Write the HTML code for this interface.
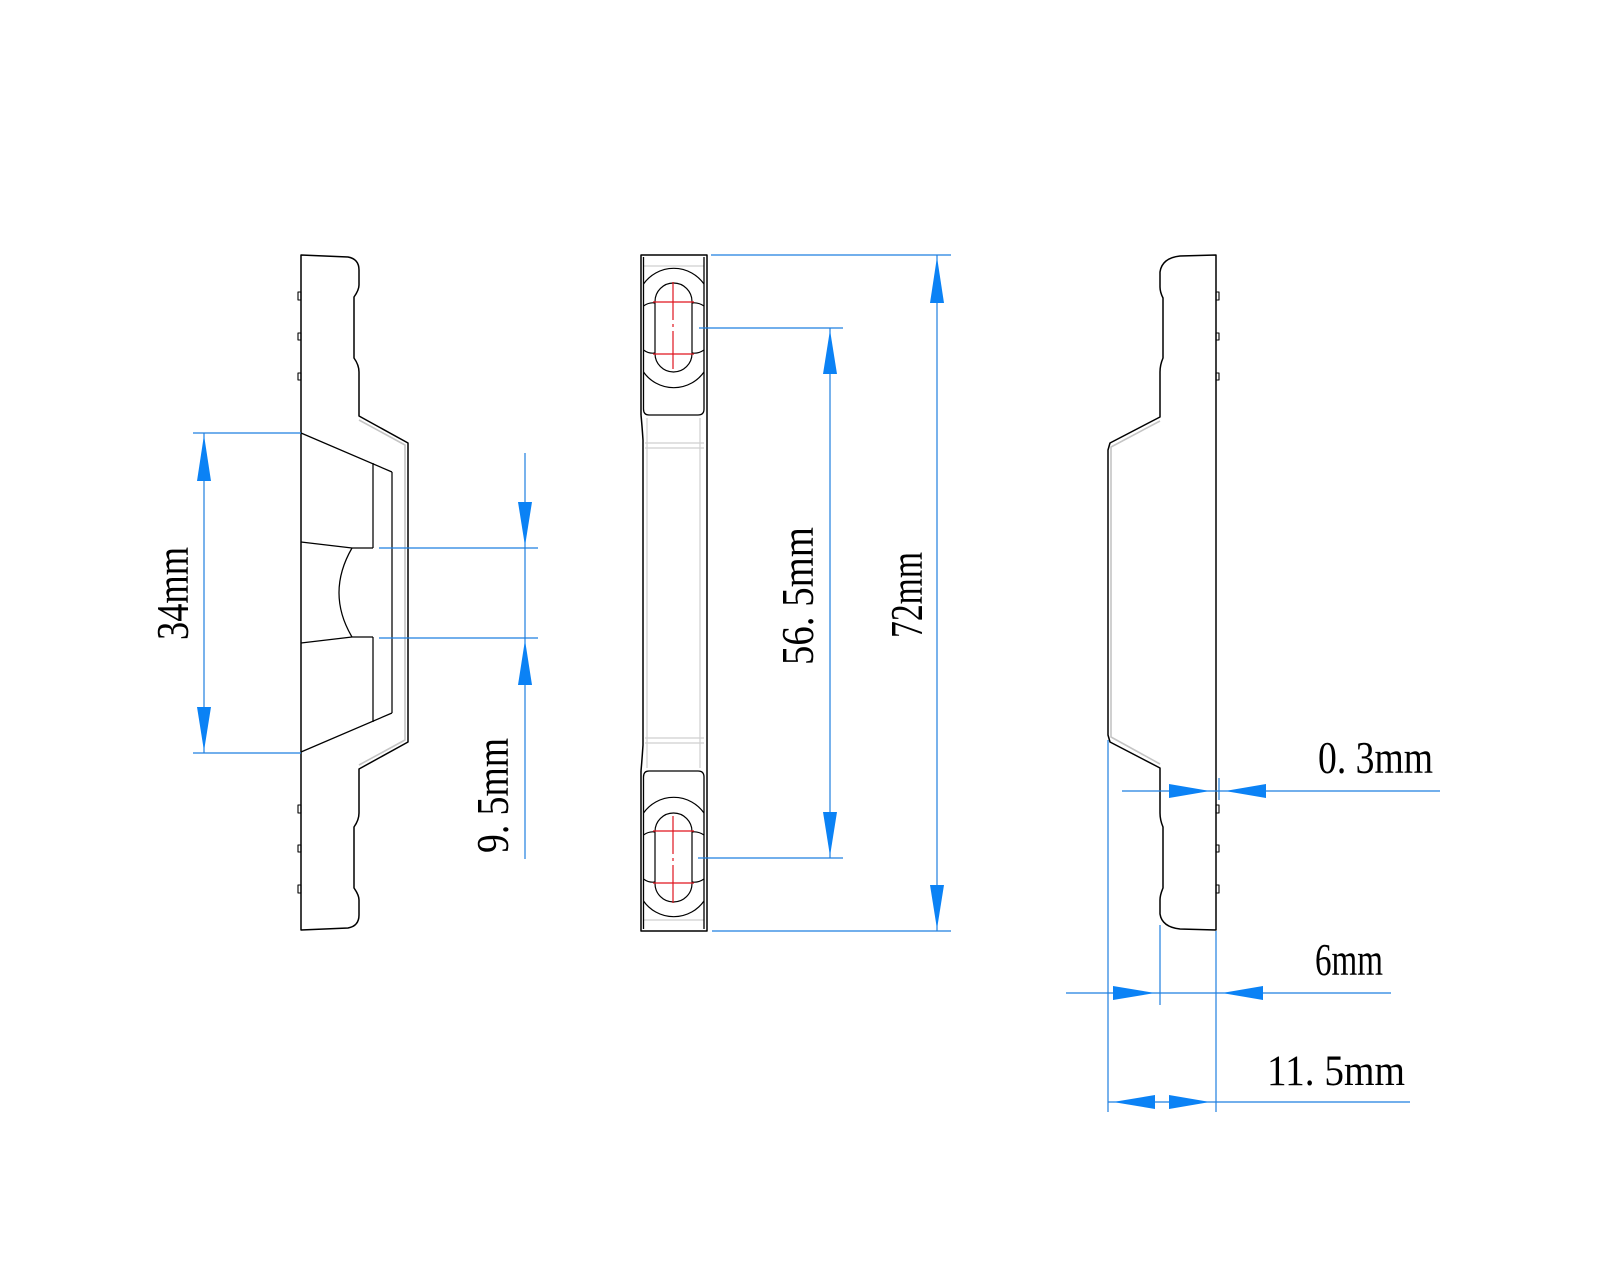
<!DOCTYPE html>
<html>
<head>
<meta charset="utf-8">
<style>
  html, body { margin: 0; padding: 0; background: #ffffff; }
  body { width: 1600px; height: 1280px; overflow: hidden; }
  svg { display: block; }
  text { font-family: "Liberation Serif", "Noto Serif CJK SC", serif; fill: #000; }
</style>
</head>
<body>
<svg width="1600" height="1280" viewBox="0 0 1600 1280" xmlns="http://www.w3.org/2000/svg">
  <rect width="1600" height="1280" fill="#ffffff"/>

  <!-- ================= LEFT VIEW ================= -->
  <g fill="none" stroke-linejoin="round">
    <polyline points="359,420 405,445 405,740 359,765" stroke="#c4c4c4" stroke-width="1.6"/>
    <path d="M301 255 L348 257 Q359 259 359 270 L359 285 Q359 290 354 297 L354 358 Q359 365 359 372 L359 416 L408 443 L408 742 L359 769 L359 813 Q359 820 354 827 L354 888 Q359 895 359 900 L359 915 Q359 926 348 928 L301 930 Z" stroke="#000" stroke-width="1.5"/>
    <g stroke="#000" stroke-width="1.1">
      <rect x="298" y="292" width="3" height="8"/>
      <rect x="298" y="333" width="3" height="7"/>
      <rect x="298" y="373" width="3" height="7"/>
      <rect x="298" y="805" width="3" height="8"/>
      <rect x="298" y="845" width="3" height="7"/>
      <rect x="298" y="885" width="3" height="8"/>
    </g>
    <g stroke="#000" stroke-width="1.25">
      <line x1="301" y1="433" x2="392" y2="472"/>
      <line x1="392" y1="472" x2="392" y2="713"/>
      <line x1="392" y1="713" x2="301" y2="752"/>
      <line x1="373" y1="463" x2="373" y2="548"/>
      <line x1="373" y1="637" x2="373" y2="722"/>
      <polyline points="301,542 352,548 373,548"/>
      <polyline points="301,643 352,637 373,637"/>
      <path d="M352 548 Q326 593 352 637"/>
    </g>
  </g>

  <!-- ================= MIDDLE VIEW ================= -->
  <g fill="none" stroke-linejoin="round">
    <g stroke="#cfcfcf" stroke-width="1.2">
      <line x1="644" y1="266" x2="704" y2="266"/>
      <line x1="644" y1="920" x2="704" y2="920"/>
      <line x1="647" y1="418" x2="647" y2="768"/>
      <line x1="700" y1="418" x2="700" y2="768"/>
      <line x1="645" y1="443" x2="704" y2="443"/>
      <line x1="645" y1="448" x2="704" y2="448"/>
      <line x1="645" y1="738" x2="704" y2="738"/>
      <line x1="645" y1="743" x2="704" y2="743"/>
    </g>
    <path d="M641 415 L641 255 L707 255 L707 931 L641 931 L641 771" stroke="#000" stroke-width="1.5"/>
    <path d="M641 415 Q642 425 643 440 L643 745 Q642 760 641 771" stroke="#000" stroke-width="1.5"/>
    <path d="M643.5 257 L643.5 409 Q643.5 415 649 415 L698 415 Q704 415 704 409 L704 257" stroke="#000" stroke-width="1.3"/>
    <path d="M643.5 929 L643.5 777 Q643.5 771 649 771 L698 771 Q704 771 704 777 L704 929" stroke="#000" stroke-width="1.3"/>

    <g id="slot">
      <path d="M643.5 284 A37 37 0 0 1 704 284" stroke="#000" stroke-width="1.2"/>
      <path d="M643.5 372 A37 37 0 0 0 704 372" stroke="#000" stroke-width="1.2"/>
      <path d="M655 301.5 A18.5 18.5 0 0 1 692 301.5 L692 353.5 A18.5 18.5 0 0 1 655 353.5 Z" stroke="#000" stroke-width="1.2"/>
      <path d="M643.5 306 Q649 302 655 303" stroke="#000" stroke-width="1.2"/>
      <path d="M692 303 Q698 302 704 306" stroke="#000" stroke-width="1.2"/>
      <path d="M643.5 350 Q649 354 655 353" stroke="#000" stroke-width="1.2"/>
      <path d="M692 353 Q698 354 704 350" stroke="#000" stroke-width="1.2"/>
      <line x1="653" y1="302" x2="694" y2="302" stroke="#e0141e" stroke-width="1.2"/>
      <line x1="653" y1="354" x2="694" y2="354" stroke="#e0141e" stroke-width="1.2"/>
      <line x1="673" y1="282" x2="673" y2="373" stroke="#e0141e" stroke-width="1.2" stroke-dasharray="38 4 3 4"/>
    </g>
    <use href="#slot" transform="translate(0,1185) scale(1,-1)"/>
  </g>

  <!-- ================= RIGHT VIEW ================= -->
  <g fill="none" stroke-linejoin="round">
    <polyline points="1160,421 1111,447 1111,737 1160,764" stroke="#c4c4c4" stroke-width="1.6"/>
    <path d="M1216 255 L1180 256 Q1162 258 1160 272 L1160 287 Q1160 292 1163 298 L1163 358 Q1160 365 1160 372 L1160 417 L1110 443 L1108 450 L1108 735 L1110 742 L1160 768 L1160 813 Q1160 820 1163 827 L1163 888 Q1160 895 1160 900 L1160 914 Q1162 927 1180 929 L1216 930 Z" stroke="#000" stroke-width="1.5"/>
    <g stroke="#000" stroke-width="1.1">
      <rect x="1216" y="292" width="3" height="8"/>
      <rect x="1216" y="333" width="3" height="7"/>
      <rect x="1216" y="373" width="3" height="7"/>
      <rect x="1216" y="805" width="3" height="8"/>
      <rect x="1216" y="845" width="3" height="7"/>
      <rect x="1216" y="885" width="3" height="8"/>
    </g>
  </g>

  <!-- ================= DIMENSIONS ================= -->
  <g stroke="#1e7fe0" stroke-width="1.2" fill="none">
    <line x1="193" y1="433" x2="301" y2="433"/>
    <line x1="193" y1="753" x2="301" y2="753"/>
    <line x1="204" y1="433" x2="204" y2="753"/>
    <line x1="379" y1="548" x2="538" y2="548"/>
    <line x1="379" y1="638" x2="538" y2="638"/>
    <line x1="525" y1="453" x2="525" y2="859"/>
    <line x1="699" y1="328" x2="843" y2="328"/>
    <line x1="698" y1="858" x2="843" y2="858"/>
    <line x1="830" y1="328" x2="830" y2="858"/>
    <line x1="711" y1="255" x2="951" y2="255"/>
    <line x1="712" y1="931" x2="951" y2="931"/>
    <line x1="937" y1="255" x2="937" y2="931"/>
    <line x1="1122" y1="791" x2="1440" y2="791"/>
    <line x1="1219" y1="778" x2="1219" y2="800"/>
    <line x1="1066" y1="993" x2="1391" y2="993"/>
    <line x1="1160" y1="925" x2="1160" y2="1005"/>
    <line x1="1108" y1="1102" x2="1410" y2="1102"/>
    <line x1="1108" y1="740" x2="1108" y2="1112"/>
    <line x1="1216" y1="931" x2="1216" y2="1112"/>
  </g>

  <g fill="#0b82f5" stroke="none">
    <polygon points="204,435 197,481 211,481"/>
    <polygon points="204,751 197,707 211,707"/>
    <polygon points="525,546 518,502 532,502"/>
    <polygon points="525,640 518,685 532,685"/>
    <polygon points="830,330 823,374 837,374"/>
    <polygon points="830,856 823,812 837,812"/>
    <polygon points="937,257 930,303 944,303"/>
    <polygon points="937,929 930,885 944,885"/>
    <polygon points="1210,791 1169,784 1169,798"/>
    <polygon points="1225,791 1266,784 1266,798"/>
    <polygon points="1155,993 1113,986 1113,1000"/>
    <polygon points="1222,993 1263,986 1263,1000"/>
    <polygon points="1113,1102 1155,1095 1155,1109"/>
    <polygon points="1210,1102 1169,1095 1169,1109"/>
  </g>

  <!-- ================= TEXT ================= -->
  <g font-size="46">
    <text transform="translate(188,593.5) rotate(-90)" x="-46.5" y="0" textLength="93" lengthAdjust="spacingAndGlyphs">34mm</text>
    <text transform="translate(508,795.5) rotate(-90)" x="-57.5" y="0" textLength="115" lengthAdjust="spacingAndGlyphs">9. 5mm</text>
    <text transform="translate(813,596) rotate(-90)" x="-69" y="0" textLength="138" lengthAdjust="spacingAndGlyphs">56. 5mm</text>
    <text transform="translate(922,595) rotate(-90)" x="-43" y="0" textLength="86" lengthAdjust="spacingAndGlyphs">72mm</text>
    <text x="1318" y="773" textLength="115" lengthAdjust="spacingAndGlyphs">0. 3mm</text>
    <text x="1315" y="975" textLength="68" lengthAdjust="spacingAndGlyphs">6mm</text>
    <text x="1267" y="1085" font-size="43" textLength="138" lengthAdjust="spacingAndGlyphs">11. 5mm</text>
  </g>
</svg>
</body>
</html>
